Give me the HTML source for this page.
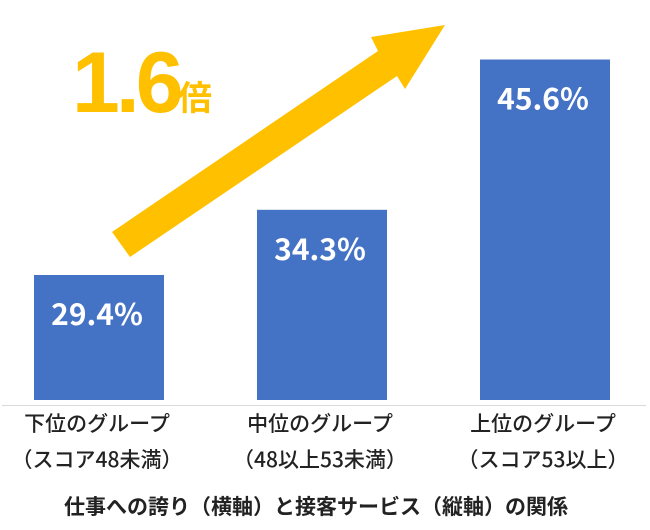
<!DOCTYPE html>
<html><head><meta charset="utf-8"><style>
html,body{margin:0;padding:0;background:#fff;}
svg{display:block;font-family:"Liberation Sans","Noto Sans CJK JP",sans-serif;}
</style></head><body>
<svg id="chart" width="650" height="530" viewBox="0 0 650 530">
<polygon fill="#FFC000" points="112,232 378,51 371,37 445,25 405,89 397,76 130,257"/>
<text x="72" y="112" font-size="86" font-weight="bold" fill="#FFC000" letter-spacing="-4">1.6</text>
<text x="178" y="110" font-size="34" font-weight="bold" fill="#FFC000" font-family="'Noto Sans CJK JP',sans-serif">倍</text>
<line x1="2" y1="405.5" x2="646" y2="405.5" stroke="#d9d9d9" stroke-width="1"/>
<g id="bars"></g>
<text x="316" y="514" font-size="21" font-weight="bold" text-anchor="middle" fill="#222" font-family="'Noto Sans CJK JP',sans-serif">仕事への誇り（横軸）と接客サービス（縦軸）の関係</text>
</svg>
<script>
const categories1 = ["下位のグループ","中位のグループ","上位のグループ"];
const categories2 = ["（スコア48未満）","（48以上53未満）","（スコア53以上）"];
const values = [29.4, 34.3, 45.6];
const valueLabels = ["29.4%","34.3%","45.6%"];
const NS="http://www.w3.org/2000/svg";
const yMin=20, baseY=400, pxPerUnit=13.3;
function y(v){return baseY-(v-yMin)*pxPerUnit;}
function xc(i){return 99+i*223;}
const g=document.getElementById('bars');
values.forEach((v,i)=>{
  const r=document.createElementNS(NS,'rect');
  
  
  r.setAttribute('x',xc(i)-65);r.setAttribute('width',130);
  r.setAttribute('y',y(v));r.setAttribute('height',baseY-y(v));
  r.setAttribute('fill','#4472C4');g.appendChild(r);
  const t=document.createElementNS(NS,'text');
  
  
  t.setAttribute('x',xc(i)-2);t.setAttribute('y',y(v)+50);
  t.setAttribute('text-anchor','middle');t.setAttribute('font-size','30');
  t.setAttribute('font-weight','bold');t.setAttribute('fill','#fff');
  t.setAttribute('font-family',"'Noto Sans CJK JP',sans-serif");
  t.textContent=valueLabels[i];g.appendChild(t);
  [categories1[i],categories2[i]].forEach((s,j)=>{
    const c=document.createElementNS(NS,'text');
    
    
    c.setAttribute('x',xc(i)-2);c.setAttribute('y',431+j*36);
    c.setAttribute('text-anchor','middle');c.setAttribute('font-size','21');
    c.setAttribute('font-weight','500');
    c.setAttribute('fill','#222');
    c.setAttribute('font-family',"'Noto Sans CJK JP',sans-serif");
    c.textContent=s;g.appendChild(c);
  });
});
</script>
</body></html>
